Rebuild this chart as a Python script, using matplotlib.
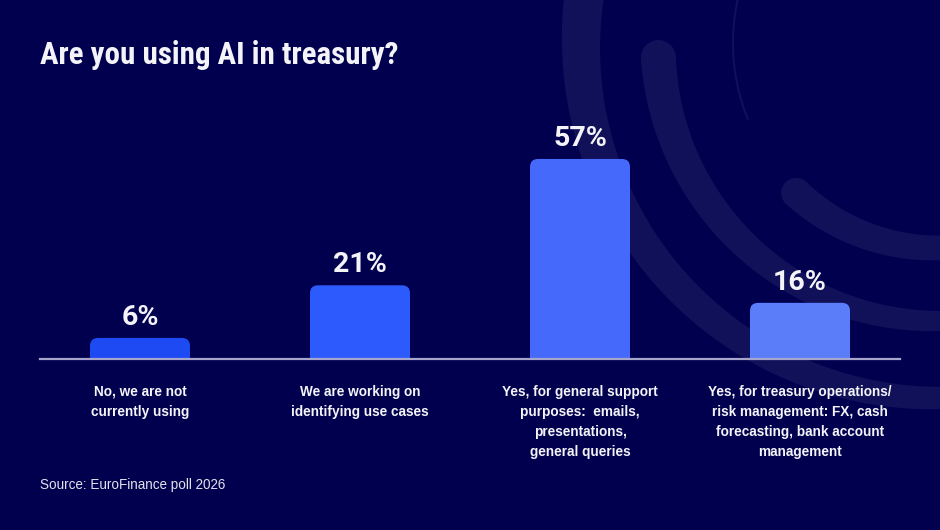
import numpy as np
import matplotlib
matplotlib.use("Agg")
import matplotlib.pyplot as plt
from matplotlib.patches import FancyBboxPatch, Circle

categories = [
    "No, we are not\ncurrently using",
    "We are working on\nidentifying use cases",
    "Yes, for general support\npurposes:  emails,\npresentations,\ngeneral queries",
    "Yes, for treasury operations/\nrisk management: FX, cash\nforecasting, bank account\nmanagement",
]
values = [6, 21, 57, 16]
bar_colors = ["#1e4af4", "#2d5afd", "#4569fa", "#5c7dfa"]

title = "Are you using AI in treasury?"
source = "Source: EuroFinance poll 2026"

BG = "#00004f"
ARC = "#11115a"
LINE = "#a6a6cc"
WHITE = "#f4f4f8"
TITLE_FONT = ["Roboto Condensed", "DejaVu Sans"]
BODY_FONT = ["Liberation Sans", "DejaVu Sans"]
NUM_FONT = ["Roboto", "DejaVu Sans"]

W, H = 940, 530
fig = plt.figure(figsize=(W / 100, H / 100), dpi=100, facecolor=BG)

# background decoration: tapering arcs around one centre, top right
deco = fig.add_axes([0, 0, 1, 1])
deco.set_xlim(0, W)
deco.set_ylim(H, 0)
deco.axis("off")
cx, cy = 936, 43


def band(r, t0, t1, w0, w1, cap):
    t = np.radians(np.linspace(t0, t1, 300))
    w = np.linspace(w0, w1, 300)
    outer = np.c_[cx + (r + w / 2) * np.cos(t), cy + (r + w / 2) * np.sin(t)]
    inner = np.c_[cx + (r - w / 2) * np.cos(t), cy + (r - w / 2) * np.sin(t)]
    pts = np.r_[outer, inner[::-1]]
    deco.fill(pts[:, 0], pts[:, 1], color=ARC, lw=0)
    if cap:
        deco.add_patch(Circle((cx + r * np.cos(t[0]), cy + r * np.sin(t[0])),
                              w0 / 2, color=ARC, lw=0))


band(355, 190, 60, 40, 17, False)
band(278, 177, 60, 35, 15, True)
band(205, 133, 60, 30, 21, True)
t = np.radians(np.linspace(194, 158, 100))
deco.plot(cx + 203 * np.cos(t), cy + 203 * np.sin(t), color=ARC, lw=1.4)

# bar axes, bottom edge sits on the baseline
ax_l, ax_b, ax_w, ax_h = 40, 359, 860, 259
ax = fig.add_axes([ax_l / W, (H - ax_b) / H, ax_w / W, ax_h / H])
ax.patch.set_alpha(0)
xlim = (-100 / 220, 3 + 100 / 220)
ylim = (0, 73.8)
ax.set_xlim(*xlim)
ax.set_ylim(*ylim)

bw = 100 / 220
rad = 8 / 220
aspect = ((ylim[1] - ylim[0]) / ax_h) / ((xlim[1] - xlim[0]) / ax_w)
for i, (v, c) in enumerate(zip(values, bar_colors)):
    p = FancyBboxPatch((i - bw / 2, -10), bw, v + 10,
                       boxstyle=f"round,pad=0,rounding_size={rad}",
                       mutation_aspect=aspect, fc=c, ec="none")
    ax.add_patch(p)
    ax.annotate(f"{v}%", (i, v), xytext=(0, 9.5), textcoords="offset points",
                ha="center", va="baseline", color=WHITE, fontsize=20.5,
                family=NUM_FONT, fontweight="bold")

for s in ["top", "left", "right"]:
    ax.spines[s].set_visible(False)
ax.spines["bottom"].set_color(LINE)
ax.spines["bottom"].set_linewidth(1.6)
ax.set_yticks([])
ax.set_xticks(range(len(categories)))
ax.set_xticklabels(categories, fontsize=9.8, fontweight="bold", family=BODY_FONT,
                   color=WHITE, linespacing=1.55)
ax.tick_params(axis="x", length=0, pad=18.5)

fig.text(40 / W, 1 - 64 / H, title, fontsize=22.3, fontweight="bold",
         family=TITLE_FONT, color=WHITE, va="baseline")
fig.text(40 / W, 1 - 489 / H, source, fontsize=9.75, family=BODY_FONT,
         color="#e2e2ec", va="baseline")

fig.savefig("out.png", dpi=100, facecolor=BG)
